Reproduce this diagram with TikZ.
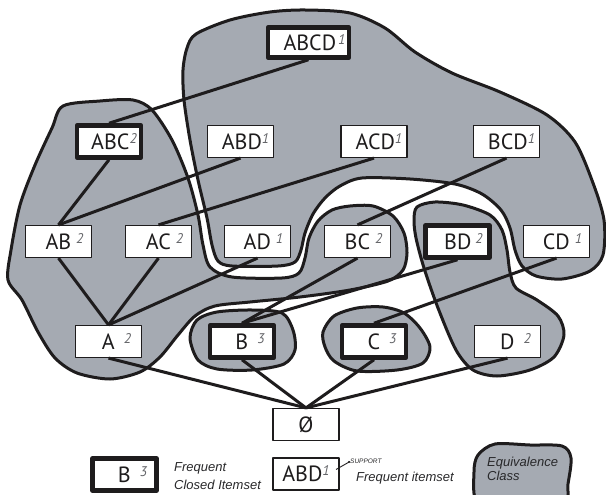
\documentclass[tikz,border=0pt]{standalone}
\usepackage{fontspec}
\setmainfont{PT Sans}
\newfontfamily\notefont{Liberation Sans}
\definecolor{classgray}{RGB}{165,170,178}
\definecolor{inkblack}{RGB}{30,28,29}
\definecolor{supgray}{RGB}{100,101,105}
\definecolor{notegray}{RGB}{40,40,42}
% support count written as a light italic superscript
\newcommand\spt[1]{\raisebox{6pt}{\fontsize{14}{14}\selectfont\itshape\color{supgray}#1}}
\begin{document}
\begin{tikzpicture}[x=1pt,y=-1pt,line join=round,
  blob/.style={fill=classgray,draw=inkblack,line width=3pt},
  link/.style={draw=inkblack,line width=3pt},
  itemset/.style={draw=inkblack,fill=white,line width=1.2pt,minimum width=66pt,
    minimum height=32pt,inner sep=0pt,text=inkblack,font=\fontsize{22}{22}\selectfont},
  closedset/.style={itemset,line width=4.5pt,minimum width=64pt,minimum height=32pt},
  note/.style={font=\notefont\itshape\fontsize{13}{17.5}\selectfont,text=notegray,align=left,inner sep=0pt}]
\useasboundingbox (0,0) rectangle (606,495);

% ---- equivalence classes ----
% class of ABCD
\draw[blob] plot[smooth cycle,tension=0.5] coordinates {
  (196,34) (230,20) (270,12) (305,10) (350,13) (385,28) (415,52) (452,73)
  (500,92) (547,115) (575,142) (593,183) (604,220) (603,255) (590,271)
  (562,279) (536,276) (522,266) (515,250) (510,228) (501,210) (482,194)
  (455,184) (410,179) (362,178) (340,186) (325,198) (313,214) (305,233)
  (301,250) (295,262) (278,266) (232,266) (218,261) (212,245) (207,218)
  (198,180) (190,140) (184,100) (183,70) (187,48)};
% class of ABC
\draw[blob] plot[smooth cycle,tension=0.5] coordinates {
  (63,106) (100,101) (133,100) (152,110) (172,140) (188,178) (198,215)
  (203,245) (210,267) (232,277) (282,278) (299,273) (305,258) (309,238)
  (318,221) (332,210) (350,206) (373,206) (393,216) (404,233) (407,253)
  (403,270) (388,281) (350,290) (300,297) (250,302) (215,306) (195,316)
  (178,335) (160,357) (140,372) (110,379) (77,373) (55,358) (38,332)
  (22,300) (8,280) (11,250) (20,205) (35,165) (52,128)};
% class of BD
\draw[blob] plot[smooth cycle,tension=0.5] coordinates {
  (417,207) (435,202) (463,205) (490,215) (502,230) (507,250) (510,272)
  (516,288) (537,300) (558,316) (564,335) (554,357) (530,370) (497,376)
  (473,370) (456,350) (438,308) (424,268) (416,238) (414,220)};
% class of B
\draw[blob] plot[smooth cycle,tension=0.5] coordinates {
  (190,338) (197,320) (217,312) (252,310) (282,313) (293,330) (295,350)
  (284,364) (252,370) (217,369) (198,360)};
% class of C
\draw[blob] plot[smooth cycle,tension=0.5] coordinates {
  (323,332) (334,316) (357,308) (383,307) (404,313) (420,328) (430,347)
  (423,363) (397,370) (357,371) (334,361) (325,347)};

% ---- itemsets ----
\node[closedset,minimum width=81pt,minimum height=30pt] (abcd) at (308.5,42.5) {\hspace*{12pt}ABCD\hspace{2pt}\spt{1}};
\node[closedset] (abc) at (109,141.5) {\hspace*{10pt}ABC\spt{2}};
\node[itemset] (abd) at (240.5,141.5) {\hspace*{10pt}ABD\spt{1}};
\node[itemset] (acd) at (374,141.5) {\hspace*{10pt}ACD\spt{1}};
\node[itemset] (bcd) at (506.5,141.5) {\hspace*{10pt}BCD\spt{1}};

\node[itemset] (ab) at (58.5,241.5) {\hspace*{12pt}AB\hspace{5pt}\spt{2}};
\node[itemset] (ac) at (158.5,241.5) {\hspace*{12pt}AC\hspace{5pt}\spt{2}};
\node[itemset] (ad) at (257.5,241.5) {\hspace*{12pt}AD\hspace{5pt}\spt{1}};
\node[itemset] (bc) at (357.5,241.5) {\hspace*{12pt}BC\hspace{5pt}\spt{2}};
\node[closedset] (bd) at (457.5,241.5) {\hspace*{12pt}BD\hspace{4pt}\spt{2}};
\node[itemset] (cd) at (556.5,241.5) {\hspace*{12pt}CD\hspace{5pt}\spt{1}};

\node[itemset] (a) at (108.5,341.5) {\hspace*{16pt}A\hspace{9pt}\spt{2}};
\node[closedset] (b) at (242,341.5) {\hspace*{16pt}B\hspace{9pt}\spt{3}};
\node[closedset] (c) at (374,341.5) {\hspace*{16pt}C\hspace{9pt}\spt{3}};
\node[itemset] (d) at (507.5,341.5) {\hspace*{16pt}D\hspace{9pt}\spt{2}};

\node[itemset] (empty) at (306,424.5) {Ø};

% ---- lattice links ----
\draw[link] (abcd.south) -- (abc.north);
\draw[link] (abc.south) -- (ab.north);
\draw[link] (abd.south) -- (ab.north);
\draw[link] (acd.south) -- (ac.north);
\draw[link] (bcd.south) -- (bc.north);
\draw[link] (ab.south) -- (a.north);
\draw[link] (ac.south) -- (a.north);
\draw[link] (ad.south) -- (a.north);
\draw[link] (bc.south) -- (b.north);
\draw[link] (bd.south) -- (b.north);
\draw[link] (cd.south) -- (c.north);
\draw[link] (a.south) -- (empty.north);
\draw[link] (b.south) -- (empty.north);
\draw[link] (c.south) -- (empty.north);
\draw[link] (d.south) -- (empty.north);

% ---- legend ----
\node[closedset] (keyclosed) at (124.5,474.5) {\hspace*{16pt}B\hspace{9pt}\spt{3}};
\node[note,anchor=west] (keyclosedtext) at (174,476) {Frequent\\Closed Itemset};
\node[itemset] (keyfreq) at (306,474) {ABD\spt{1}};
\node[font=\notefont\itshape\fontsize{6.5}{7}\selectfont,text=notegray,inner sep=0pt,anchor=west] (keysupport) at (350,461.5) {SUPPORT};
\coordinate (keysuptip) at (336,469.5);
\fill[inkblack] (349,462) circle (1.2pt);
\draw[inkblack,line width=0.9pt] (keysupport.west) -- (keysuptip);
\node[note,anchor=west] (keyfreqtext) at (356,478.5) {Frequent itemset};
\draw[blob] plot[smooth cycle,tension=0.5] coordinates {
  (474,472) (478,455) (495,444) (530,445) (562,446) (571,458) (568,484)
  (564,502) (520,506) (478,503)};
\node[note,anchor=west,font=\notefont\itshape\fontsize{13}{14.5}\selectfont] (keyclasstext) at (487,469) {Equivalence\\Class};
\end{tikzpicture}
\end{document}
